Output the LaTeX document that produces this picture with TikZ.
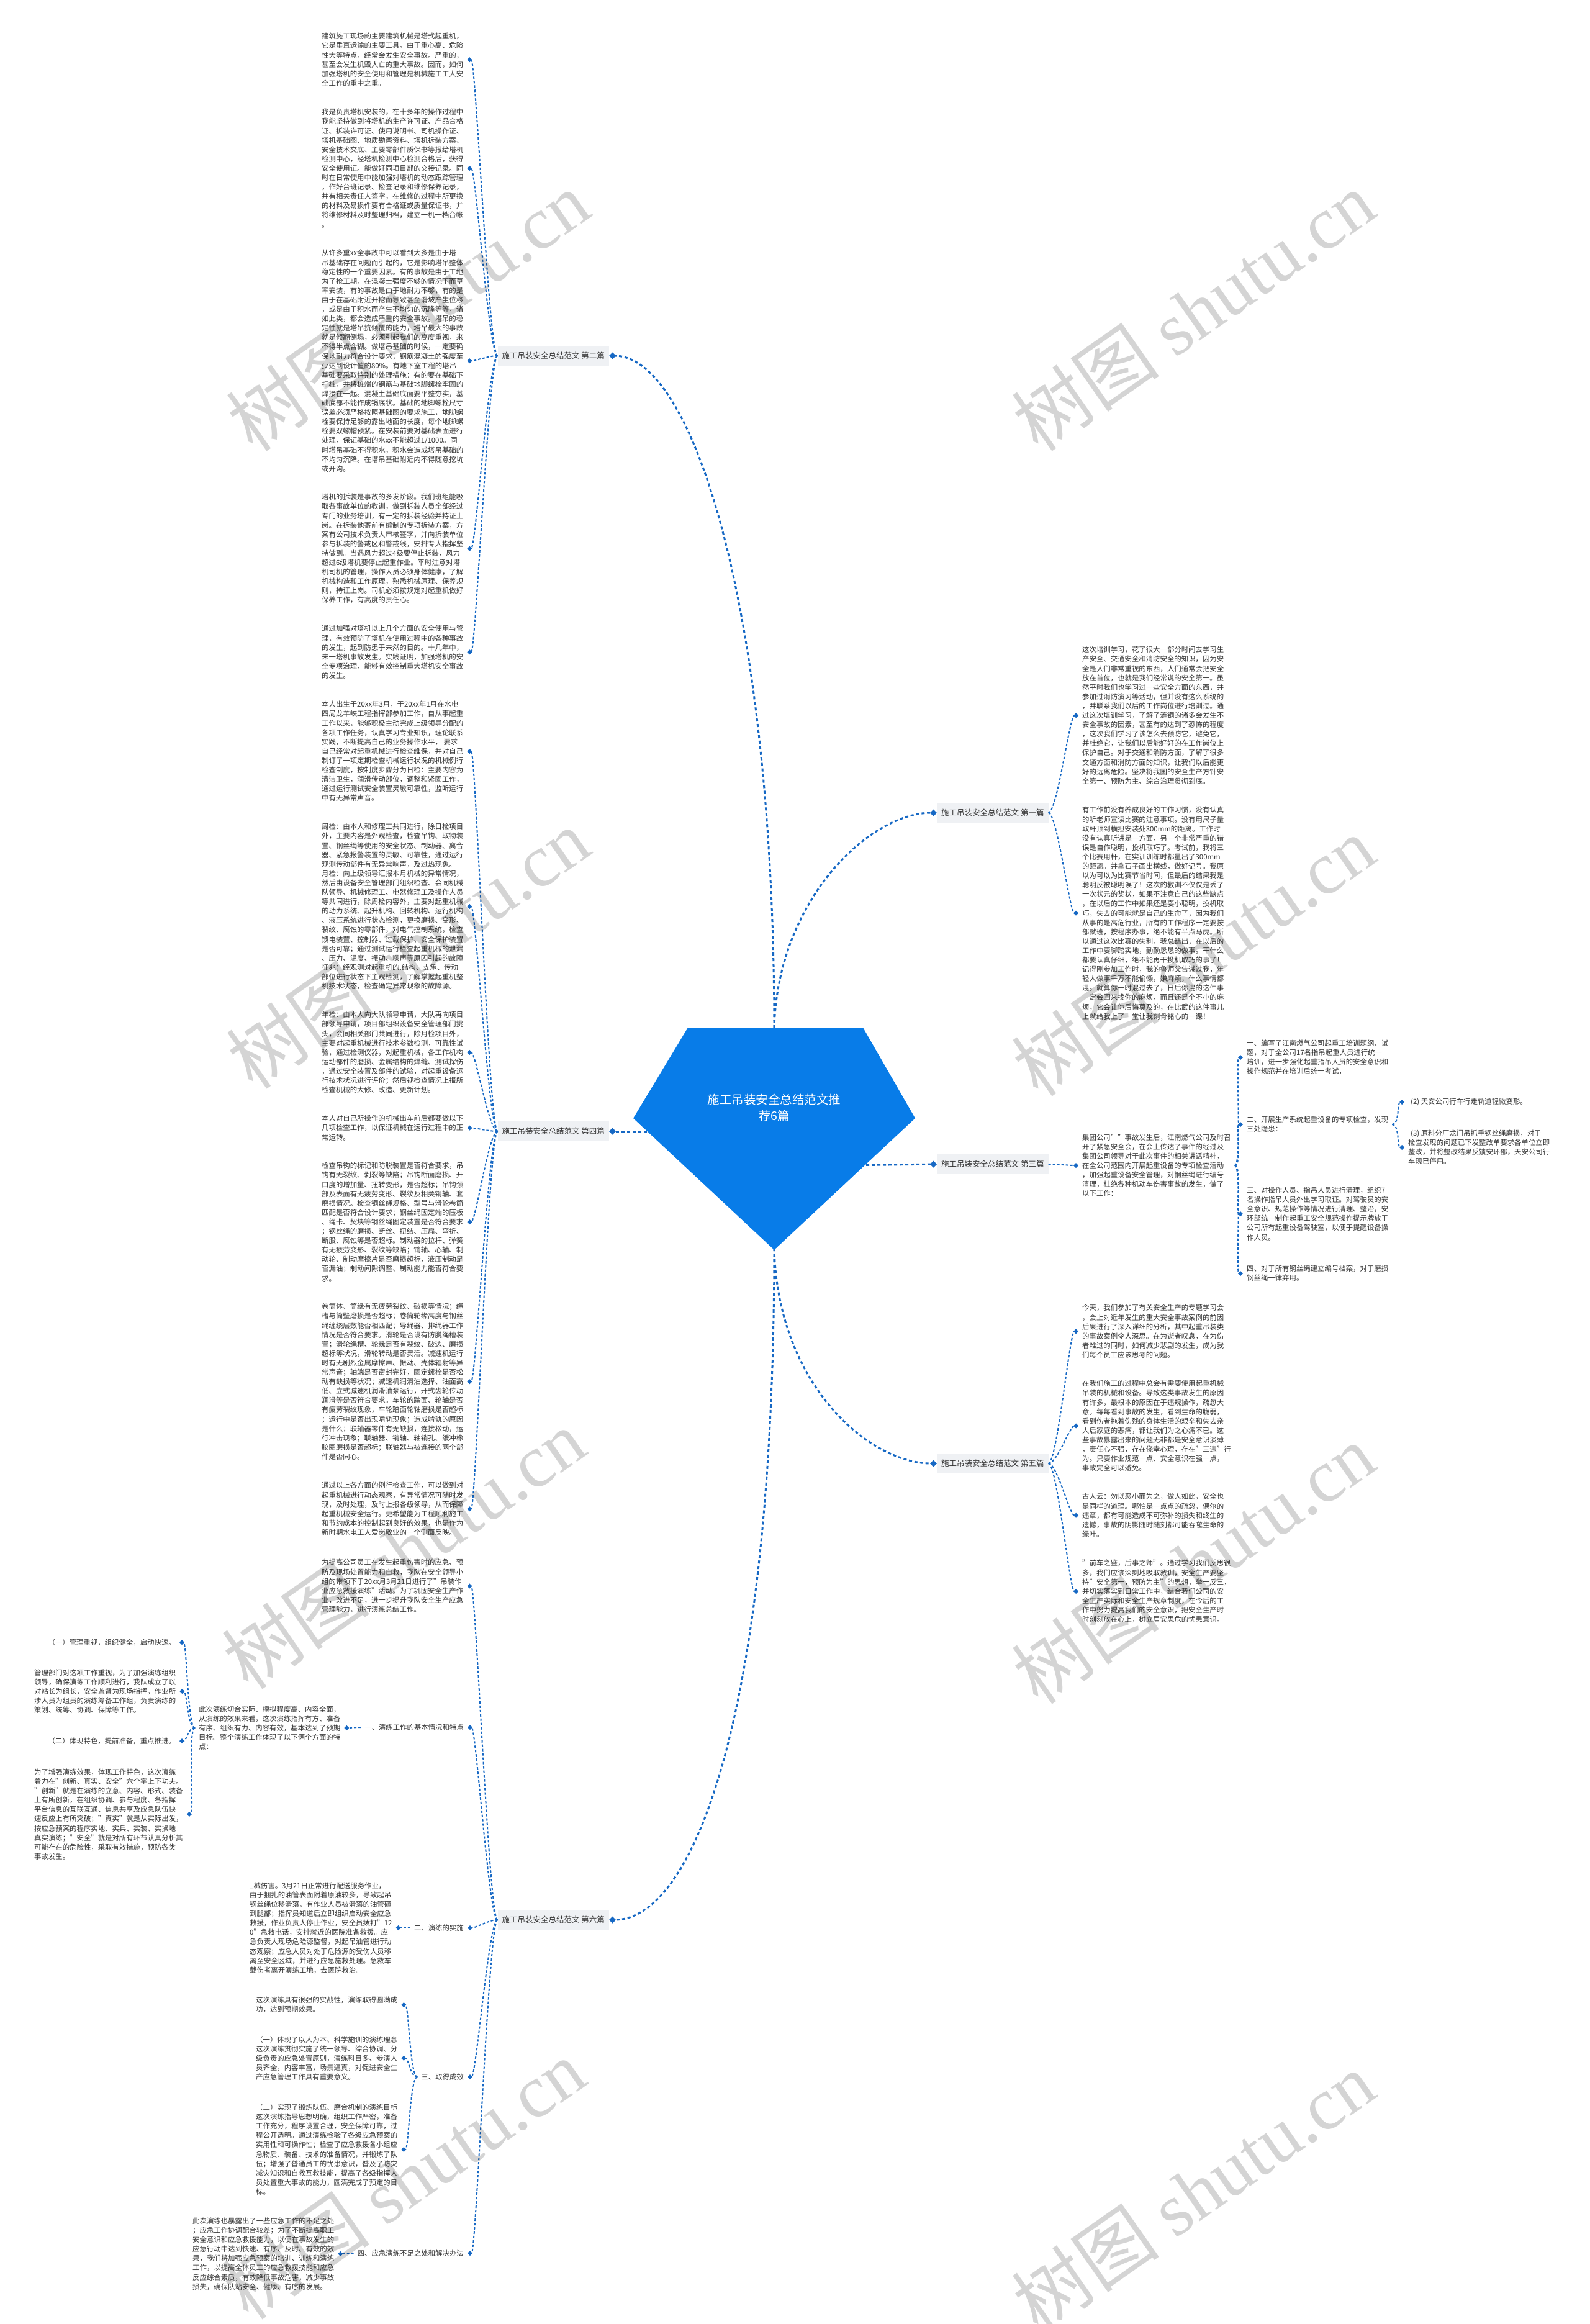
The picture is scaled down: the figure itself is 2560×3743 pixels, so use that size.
\documentclass[tikz,border=0pt]{standalone}
\usepackage{fontspec}
\setmainfont{Noto Sans CJK SC}
\newfontfamily\wmlatin{Liberation Serif}
\usetikzlibrary{arrows.meta}

\definecolor{linkblue}{RGB}{22,104,196}
\definecolor{rootblue}{RGB}{8,124,232}
\definecolor{labgrey}{RGB}{239,241,244}
\definecolor{textgrey}{RGB}{51,51,51}

\begin{document}
\begin{tikzpicture}[x=1pt,y=-1pt,
    txt/.style={font=\fontsize{11.4pt}{15.1pt}\selectfont,text=textgrey,align=left,inner xsep=6pt,inner ysep=0pt},
    blk/.style={txt,anchor=north west},
    lab/.style={fill=labgrey,text=textgrey,font=\fontsize{12.5pt}{15pt}\selectfont,inner xsep=7pt,inner ysep=10pt},
    link/.style={draw=linkblue,line width=2pt,dash pattern=on 4pt off 3pt,-{Diamond[length=8pt,width=8pt]}},
    mainlink/.style={link,line width=3pt,dash pattern=on 5pt off 4pt,-{Diamond[length=11pt,width=11pt]}},
    wm/.style={rotate=35,text=black,text opacity=0.17,font=\fontsize{120pt}{120pt}\selectfont,inner sep=0pt}]

        \fill[white] (0,0) rectangle (2560,3743);
        \useasboundingbox (0,0) rectangle (2560,3743);

        % ------------------------------------------------ left: 第二篇
        \node[lab,anchor=east] (lab2) at (981,573) {施工吊装安全总结范文 第二篇};

        \node[blk] (b2a) at (512,53) {建筑施工现场的主要建筑机械是塔式起重机，\\
它是垂直运输的主要工具。由于重心高、危险\\
性大等特点，经常会发生安全事故。严重的，\\
甚至会发生机毁人亡的重大事故。因而，如何\\
加强塔机的安全使用和管理是机械施工工人安\\
全工作的重中之重。};
        \node[blk] (b2b) at (512,175) {我是负责塔机安装的，在十多年的操作过程中\\
我能坚持做到将塔机的生产许可证、产品合格\\
证、拆装许可证、使用说明书、司机操作证、\\
塔机基础图、地质勘察资料、塔机拆装方案、\\
安全技术交底、主要零部件质保书等报给塔机\\
检测中心，经塔机检测中心检测合格后，获得\\
安全使用证。能做好同项目部的交接记录。同\\
时在日常使用中能加强对塔机的动态跟踪管理\\
，作好台班记录、检查记录和维修保养记录，\\
并有相关责任人签字，在维修的过程中所更换\\
的材料及易损件要有合格证或质量保证书，并\\
将维修材料及时整理归档，建立一机一档台帐\\
。};
        \node[blk] (b2c) at (512,402) {从许多重xx全事故中可以看到大多是由于塔\\
吊基础存在问题而引起的，它是影响塔吊整体\\
稳定性的一个重要因素。有的事故是由于工地\\
为了抢工期，在混凝土强度不够的情况下而草\\
率安装，有的事故是由于地耐力不够，有的是\\
由于在基础附近开挖而导致甚至滑坡产生位移\\
，或是由于积水而产生不均匀的沉降等等，诸\\
如此类，都会造成严重的安全事故。塔吊的稳\\
定性就是塔吊抗倾覆的能力，塔吊最大的事故\\
就是倾翻倒塌，必须引起我们的高度重视，来\\
不得半点含糊。做塔吊基础的时候，一定要确\\
保地耐力符合设计要求，钢筋混凝土的强度至\\
少达到设计值的80\%。有地下室工程的塔吊\\
基础要采取特别的处理措施：有的要在基础下\\
打桩，并将桩端的钢筋与基础地脚螺栓牢固的\\
焊接在一起。混凝土基础底面要平整夯实，基\\
础底部不能作成锅底状。基础的地脚螺栓尺寸\\
误差必须严格按照基础图的要求施工，地脚螺\\
栓要保持足够的露出地面的长度，每个地脚螺\\
栓要双螺帽预紧。在安装前要对基础表面进行\\
处理，保证基础的水xx不能超过1/1000。同\\
时塔吊基础不得积水，积水会造成塔吊基础的\\
不均匀沉降。在塔吊基础附近内不得随意挖坑\\
或开沟。};
        \node[blk] (b2d) at (512,795) {塔机的拆装是事故的多发阶段。我们班组能吸\\
取各事故单位的教训，做到拆装人员全部经过\\
专门的业务培训，有一定的拆装经验并持证上\\
岗。在拆装他寄前有编制的专项拆装方案，方\\
案有公司技术负责人审核签字，并向拆装单位\\
参与拆装的警戒区和警戒线，安排专人指挥坚\\
持做到。当遇风力超过4级要停止拆装，风力\\
超过6级塔机要停止起重作业。平时注意对塔\\
机司机的管理，操作人员必须身体健康，了解\\
机械构造和工作原理，熟悉机械原理、保养规\\
则，持证上岗。司机必须按规定对起重机做好\\
保养工作，有高度的责任心。};
        \node[blk] (b2e) at (512,1007) {通过加强对塔机以上几个方面的安全使用与管\\
理，有效预防了塔机在使用过程中的各种事故\\
的发生，起到防患于未然的目的。十几年中，\\
未一塔机事故发生。实践证明，加强塔机的安\\
全专项治理，能够有效控制重大塔机安全事故\\
的发生。};

        % ------------------------------------------------ left: 第四篇
        \node[lab,anchor=east] (lab4) at (981,1822) {施工吊装安全总结范文 第四篇};

        \node[blk] (b4a) at (512,1129) {本人出生于20xx年3月，于20xx年1月在水电\\
四局龙羊峡工程指挥部参加工作，自从事起重\\
工作以来，能够积极主动完成上级领导分配的\\
各项工作任务，认真学习专业知识，理论联系\\
实践，不断提高自己的业务操作水平， 要求\\
自己经常对起重机械进行检查维保，并对自己\\
制订了一项定期检查机械运行状况的机械例行\\
检查制度，按制度步骤分为日检：主要内容为\\
清洁卫生，润滑传动部位，调整和紧固工作，\\
通过运行测试安全装置灵敏可靠性，监听运行\\
中有无异常声音。};
        \node[blk] (b4b) at (512,1326) {周检：由本人和修理工共同进行，除日检项目\\
外，主要内容是外观检查，检查吊钩、取物装\\
置、钢丝绳等使用的安全状态、制动器、离合\\
器、紧急报警装置的灵敏、可靠性，通过运行\\
观测传动部件有无异常响声，及过热现象。\\
月检：向上级领导汇报本月机械的异常情况，\\
然后由设备安全管理部门组织检查、会同机械\\
队领导、机械修理工、电器修理工及操作人员\\
等共同进行，除周检内容外，主要对起重机械\\
的动力系统、起升机构、回转机构、运行机构\\
、液压系统进行状态检测，更换磨损、变形、\\
裂纹、腐蚀的零部件，对电气控制系统，检查\\
馈电装置、控制器、过载保护、安全保护装置\\
是否可靠；通过测试运行检查起重机械的泄漏\\
、压力、温度、振动、噪声等原因引起的故障\\
征兆；经观测对起重机的.结构、支承、传动\\
部位进行状态下主观检测，了解掌握起重机整\\
机技术状态，检查确定异常现象的故障源。};
        \node[blk] (b4c) at (512,1629) {年检：由本人向大队领导申请，大队再向项目\\
部领导申请，项目部组织设备安全管理部门挑\\
头，会同相关部门共同进行，除月检项目外，\\
主要对起重机械进行技术参数检测，可靠性试\\
验，通过检测仪器，对起重机械，各工作机构\\
运动部件的磨损、金属结构的焊缝、测试探伤\\
，通过安全装置及部件的试验，对起重设备运\\
行技术状况进行评价；然后视检查情况上报所\\
检查机械的大修、改造、更新计划。};
        \node[blk] (b4d) at (512,1796) {本人对自己所操作的机械出车前后都要做以下\\
几项检查工作，以保证机械在运行过程中的正\\
常运转。};
        \node[blk] (b4e) at (512,1872) {检查吊钩的标记和防脱装置是否符合要求，吊\\
钩有无裂纹、剥裂等缺陷；吊钩断面磨损、开\\
口度的增加量、扭转变形，是否超标；吊钩颈\\
部及表面有无疲劳变形、裂纹及相关销轴、套\\
磨损情况。检查钢丝绳规格、型号与滑轮卷筒\\
匹配是否符合设计要求；钢丝绳固定端的压板\\
、绳卡、契块等钢丝绳固定装置是否符合要求\\
；钢丝绳的磨损、断丝、扭结、压扁、弯折、\\
断股、腐蚀等是否超标。制动器的拉杆、弹簧\\
有无疲劳变形、裂纹等缺陷；销轴、心轴、制\\
动轮、制动摩擦片是否磨损超标，液压制动是\\
否漏油；制动间隙调整、制动能力能否符合要\\
求。};
        \node[blk] (b4f) at (512,2099) {卷筒体、筒缘有无疲劳裂纹、破损等情况；绳\\
槽与筒壁磨损是否超标；卷筒轮缘高度与钢丝\\
绳缠绕层数能否相匹配；导绳器、排绳器工作\\
情况是否符合要求。滑轮是否设有防脱绳槽装\\
置；滑轮绳槽、轮缘是否有裂纹、破边、磨损\\
超标等状况，滑轮转动是否灵活。减速机运行\\
时有无剧烈金属摩擦声、振动、壳体辐射等异\\
常声音；轴端是否密封完好，固定螺栓是否松\\
动有缺损等状况；减速机润滑油选择、油面高\\
低、立式减速机润滑油泵运行，开式齿轮传动\\
润滑等是否符合要求。车轮的踏面、轮轴是否\\
有疲劳裂纹现象，车轮踏面轮轴磨损是否超标\\
；运行中是否出现啃轨现象；造成啃轨的原因\\
是什么；联轴器零件有无缺损，连接松动，运\\
行冲击现象；联轴器、销轴、轴销孔、缓冲橡\\
胶圈磨损是否超标；联轴器与被连接的两个部\\
件是否同心。};
        \node[blk] (b4g) at (512,2387) {通过以上各方面的例行检查工作，可以做到对\\
起重机械进行动态观察，有异常情况可随时发\\
现，及时处理，及时上报各级领导，从而保障\\
起重机械安全运行。更希望能为工程顺利施工\\
和节约成本的控制起到良好的效果，也是作为\\
新时期水电工人爱岗敬业的一个侧面反映。};

        % ------------------------------------------------ left: 第六篇
        \node[lab,anchor=east] (lab6) at (981,3092) {施工吊装安全总结范文 第六篇};

        \node[blk] (b6a) at (512,2511) {为提高公司员工在发生起重伤害时的应急、预\\
防及现场处置能力和自救，我队在安全领导小\\
组的带领下于20xx月3月21日进行了"吊装作\\
业应急救援演练"活动。为了巩固安全生产作\\
业，改进不足，进一步提升我队安全生产应急\\
管理能力，进行演练总结工作。};
        \node[txt,anchor=east] (d1) at (753,2782) {一、演练工作的基本情况和特点};
        \node[txt,anchor=east] (d2) at (753,3105) {二、演练的实施};
        \node[txt,anchor=east] (d3) at (753,3345) {三、取得成效};
        \node[txt,anchor=east] (d4) at (753,3629) {四、应急演练不足之处和解决办法};

        % part one
        \node[txt,anchor=west] (d1x) at (314,2783) {此次演练切合实际、模拟程度高、内容全面，\\
从演练的效果来看，这次演练指挥有方、准备\\
有序、组织有力、内容有效，基本达到了预期\\
目标。整个演练工作体现了以下俩个方面的特\\
点：};
        \node[txt,anchor=east] (d1a) at (289,2645) {（一）管理重视，组织健全，启动快速。};
        \node[txt,anchor=west] (d1b) at (49,2724) {管理部门对这项工作重视，为了加强演练组织\\
领导，确保演练工作顺利进行，我队成立了以\\
对站长为组长，安全监督为现场指挥，作业所\\
涉人员为组员的演练筹备工作组，负责演练的\\
策划、统筹、协调、保障等工作。};
        \node[txt,anchor=east] (d1c) at (289,2804) {（二）体现特色，提前准备，重点推进。};
        \node[txt,anchor=west] (d1d) at (49,2922) {为了增强演练效果，体现工作特色，这次演练\\
着力在"创新、真实、安全"六个字上下功夫。\\
"创新"就是在演练的立意、内容、形式、装备\\
上有所创新，在组织协调、参与程度、各指挥\\
平台信息的互联互通、信息共享及应急队伍快\\
速反应上有所突破；"真实"就是从实际出发，\\
按应急预案的程序实地、实兵、实装、实操地\\
真实演练；"安全"就是对所有环节认真分析其\\
可能存在的危险性，采取有效措施，预防各类\\
事故发生。};

        % part two
        \node[txt,anchor=west] (d2x) at (396,3105) {\_械伤害。3月21日正常进行配送服务作业，\\
由于捆扎的油管表面附着原油较多，导致起吊\\
钢丝绳位移滑落，有作业人员被滑落的油管砸\\
到腿部；指挥员知道后立即组织启动安全应急\\
救援，作业负责人停止作业，安全员拨打"12\\
0"急救电话，安排就近的医院准备救援。应\\
急负责人现场危险源监督，对起吊油管进行动\\
态观察；应急人员对处于危险源的受伤人员移\\
离至安全区域，并进行应急施救处理。急救车\\
载伤者离开演练工地，去医院救治。};

        % part three
        \node[txt,anchor=west] (d3a) at (406,3229) {这次演练具有很强的实战性，演练取得圆满成\\
功，达到预期效果。};
        \node[txt,anchor=west] (d3b) at (406,3315) {（一）体现了以人为本、科学施训的演练理念\\
这次演练贯彻实施了统一领导、综合协调、分\\
级负责的应急处置原则，演练科目多、参演人\\
员齐全，内容丰富，场景逼真，对促进安全生\\
产应急管理工作具有重要意义。};
        \node[txt,anchor=west] (d3c) at (406,3462) {（二）实现了锻炼队伍、磨合机制的演练目标\\
这次演练指导思想明确，组织工作严密，准备\\
工作充分，程序设置合理，安全保障可靠，过\\
程公开透明。通过演练检验了各级应急预案的\\
实用性和可操作性；检查了应急救援各小组应\\
急物质、装备、技术的准备情况，并锻炼了队\\
伍；增强了普通员工的忧患意识，普及了防灾\\
减灾知识和自救互救技能，提高了各级指挥人\\
员处置重大事故的能力，圆满完成了预定的目\\
标。};

        % part four
        \node[txt,anchor=west] (d4x) at (304,3630) {此次演练也暴露出了一些应急工作的不足之处\\
；应急工作协调配合较差；为了不断提高职工\\
安全意识和应急救援能力，以便在事故发生的\\
应急行动中达到快速、有序、及时、有效的效\\
果，我们将加强应急预案的培训、训练和演练\\
工作，以提高全体员工的应急救援技能和应急\\
反应综合素质，有效降低事故危害，减少事故\\
损失，确保队站安全、健康、有序的发展。};

        % ------------------------------------------------ right: 第一篇
        \node[lab,anchor=west] (lab1) at (1509,1309) {施工吊装安全总结范文 第一篇};

        \node[blk] (b1a) at (1737,1041) {这次培训学习，花了很大一部分时间去学习生\\
产安全、交通安全和消防安全的知识，因为安\\
全是人们非常重视的东西，人们通常会把安全\\
放在首位，也就是我们经常说的安全第一。虽\\
然平时我们也学习过一些安全方面的东西，并\\
参加过消防演习等活动，但并没有这么系统的\\
，并联系我们以后的工作岗位进行培训过。通\\
过这次培训学习，了解了涟钢的诸多会发生不\\
安全事故的因素，甚至有的达到了恐怖的程度\\
，这次我们学习了该怎么去预防它，避免它，\\
并杜绝它，让我们以后能好好的在工作岗位上\\
保护自己。对于交通和消防方面，了解了很多\\
交通方面和消防方面的知识，让我们以后能更\\
好的远离危险。坚决将我国的安全生产方针安\\
全第一、预防为主、综合治理贯彻到底。};
        \node[blk] (b1b) at (1737,1299) {有工作前没有养成良好的工作习惯，没有认真\\
的听老师宣读比赛的注意事项。没有用尺子量\\
取杆顶到横担安装处300mm的距离。工作时\\
没有认真听讲是一方面，另一个非常严重的错\\
误是自作聪明，投机取巧了。考试前，我将三\\
个比赛用杆，在实训训练时都量出了300mm\\
的距离。并拿石子画出横线，做好记号。我原\\
以为可以为比赛节省时间，但最后的结果我是\\
聪明反被聪明误了！这次的教训不仅仅是丢了\\
一次状元的奖状，如果不注意自己的这些缺点\\
，在以后的工作中如果还是耍小聪明，投机取\\
巧，失去的可能就是自己的生命了，因为我们\\
从事的是高危行业，所有的工作程序一定要按\\
部就班，按程序办事，绝不能有半点马虎。所\\
以通过这次比赛的失利，我总结出，在以后的\\
工作中要脚踏实地，勤勤恳恳的做事。干什么\\
都要认真仔细，绝不能再干投机取巧的事了！\\
记得刚参加工作时，我的鲁师父告诫过我，年\\
轻人做事千万不能偷懒，嫌麻烦，什么事情都\\
混。就算你一时混过去了，日后你混的这件事\\
一定会回来找你的麻烦，而且还是个不小的麻\\
烦，它会让你后悔莫及的，在比武的这件事儿\\
上就给我上了一堂让我刻骨铭心的一课！};

        % ------------------------------------------------ right: 第三篇
        \node[lab,anchor=west] (lab3) at (1509,1875) {施工吊装安全总结范文 第三篇};

        \node[txt,anchor=west] (b3x) at (1737,1877) {集团公司""事故发生后，江南燃气公司及时召\\
开了紧急安全会，在会上传达了事件的经过及\\
集团公司领导对于此次事件的相关讲话精神，\\
在全公司范围内开展起重设备的专项检查活动\\
，加强起重设备安全管理，对钢丝绳进行编号\\
清理，杜绝各种机动车伤害事故的发生，做了\\
以下工作：};
        \node[txt,anchor=west] (b3a) at (2002,1703) {一、编写了江南燃气公司起重工培训题纲、试\\
题，对于全公司17名指吊起重人员进行统一\\
培训，进一步强化起重指吊人员的安全意识和\\
操作规范并在培训后统一考试，};
        \node[txt,anchor=west] (b3b) at (2002,1811) {二、开展生产系统起重设备的专项检查，发现\\
三处隐患：};
        \node[txt,anchor=west] (b3c) at (2002,1955) {三、对操作人员、指吊人员进行清理，组织7\\
名操作指吊人员外出学习取证。对驾驶员的安\\
全意识、规范操作等情况进行清理、整治，安\\
环部统一制作起重工安全规范操作提示牌放于\\
公司所有起重设备驾驶室，以便于提醒设备操\\
作人员。};
        \node[txt,anchor=west] (b3d) at (2002,2051) {四、对于所有钢丝绳建立编号档案，对于磨损\\
钢丝绳一律弃用。};
        \node[txt,anchor=west] (b3e) at (2262,1775) {\hspace{4pt}(2) 天安公司行车行走轨道轻微变形。};
        \node[txt,anchor=west] (b3f) at (2262,1848) {\hspace{4pt}(3) 原料分厂龙门吊抓手钢丝绳磨损，对于\\
检查发现的问题已下发整改单要求各单位立即\\
整改，并将整改结果反馈安环部，天安公司行\\
车现已停用。};

        % ------------------------------------------------ right: 第五篇
        \node[lab,anchor=west] (lab5) at (1509,2357) {施工吊装安全总结范文 第五篇};

        \node[blk] (b5a) at (1737,2101) {今天，我们参加了有关安全生产的专题学习会\\
，会上对近年发生的重大安全事故案例的前因\\
后果进行了深入详细的分析，其中起重吊装类\\
的事故案例令人深思。在为逝者叹息，在为伤\\
者难过的同时，如何减少悲剧的发生，成为我\\
们每个员工应该思考的问题。};
        \node[blk] (b5b) at (1737,2223) {在我们施工的过程中总会有需要使用起重机械\\
吊装的机械和设备。导致这类事故发生的原因\\
有许多，最根本的原因在于违规操作，疏忽大\\
意。每每看到事故的发生，看到生命的脆弱，\\
看到伤者拖着伤残的身体生活的艰辛和失去亲\\
人后家庭的悲痛，都让我们为之心痛不已。这\\
些事故暴露出来的问题无非都是安全意识淡薄\\
，责任心不强，存在侥幸心理，存在"三违"行\\
为。只要作业规范一点、安全意识在强一点，\\
事故完全可以避免。};
        \node[blk] (b5c) at (1737,2405) {古人云：勿以恶小而为之，做人如此，安全也\\
是同样的道理。哪怕是一点点的疏忽，偶尔的\\
违章，都有可能造成不可弥补的损失和终生的\\
遗憾，事故的阴影随时随刻都可能吞噬生命的\\
绿叶。};
        \node[blk] (b5d) at (1737,2512) {"前车之鉴，后事之师"。通过学习我们反思很\\
多，我们应该深刻地吸取教训，安全生产要坚\\
持"安全第一，预防为主"的思想，举一反三，\\
并切实落实到日常工作中，结合我们公司的安\\
全生产实际和安全生产规章制度，在今后的工\\
作中努力提高我们的安全意识，把安全生产时\\
时刻刻放在心上，树立居安思危的忧患意识。};

        % ------------------------------------------------ connectors
        \foreach \c in {b2a,b2b,b2c,b2d,b2e}
            \draw[link] (lab2.west) .. controls +(-14,0) and +(14,0) .. (\c.east);
        \foreach \c in {b4a,b4b,b4c,b4d,b4e,b4f,b4g}
            \draw[link] (lab4.west) .. controls +(-14,0) and +(14,0) .. (\c.east);
        \foreach \c in {b6a,d1,d2,d3,d4}
            \draw[link] (lab6.west) .. controls +(-14,0) and +(14,0) .. (\c.east);
        \draw[link] (d1.west) .. controls +(-12,0) and +(12,0) .. (d1x.east);
        \foreach \c in {d1a,d1b,d1c,d1d}
            \draw[link] (d1x.west) .. controls +(-12,0) and +(12,0) .. (\c.east);
        \draw[link] (d2.west) .. controls +(-12,0) and +(12,0) .. (d2x.east);
        \foreach \c in {d3a,d3b,d3c}
            \draw[link] (d3.west) .. controls +(-12,0) and +(12,0) .. (\c.east);
        \draw[link] (d4.west) .. controls +(-12,0) and +(12,0) .. (d4x.east);

        \foreach \c in {b1a,b1b}
            \draw[link] (lab1.east) .. controls +(14,0) and +(-14,0) .. (\c.west);
        \draw[link] (lab3.east) .. controls +(14,0) and +(-14,0) .. (b3x.west);
        \foreach \c in {b3a,b3b,b3c,b3d}
            \draw[link] (b3x.east) .. controls +(12,0) and +(-12,0) .. (\c.west);
        \foreach \c in {b3e,b3f}
            \draw[link] (b3b.east) .. controls +(12,0) and +(-12,0) .. (\c.west);
        \foreach \c in {b5a,b5b,b5c,b5d}
            \draw[link] (lab5.east) .. controls +(14,0) and +(-14,0) .. (\c.west);

        % root to the six branches (hidden under the pentagon where they start)
        \coordinate (ctop) at (1247,1656);
        \coordinate (cbot) at (1247,2010);
        \coordinate (cleft) at (1150,1822);
        \coordinate (cright) at (1350,1877);
        \draw[mainlink] (ctop) .. controls (1247,1000) and (1120,573) .. (lab2.east);
        \draw[mainlink] (ctop) .. controls (1252,1450) and (1400,1309) .. (lab1.west);
        \draw[mainlink] (cleft) -- (lab4.east);
        \draw[mainlink] (cright) -- (lab3.west);
        \draw[mainlink] (cbot) .. controls (1252,2230) and (1400,2357) .. (lab5.west);
        \draw[mainlink] (cbot) .. controls (1247,2750) and (1120,3092) .. (lab6.east);

        % ------------------------------------------------ root pentagon
        \fill[rootblue] (1108,1655) -- (1390,1655) -- (1474,1801) -- (1247,2013) -- (1020,1801) -- cycle;
        \node[text=white,align=center,font=\fontsize{19.5pt}{26pt}\selectfont] (root) at (1247,1784)
            {施工吊装安全总结范文推\\荐6篇};

        % ------------------------------------------------ watermark
        \foreach \wx/\wy [count=\i] in {657/501,1922/501,657/1528,1922/1540,650/2495,1922/2519,650/3510,1922/3530}
            \node[wm] (wm\i) at (\wx,\wy) {树图 {\wmlatin shutu.cn}};

\end{tikzpicture}
\end{document}
